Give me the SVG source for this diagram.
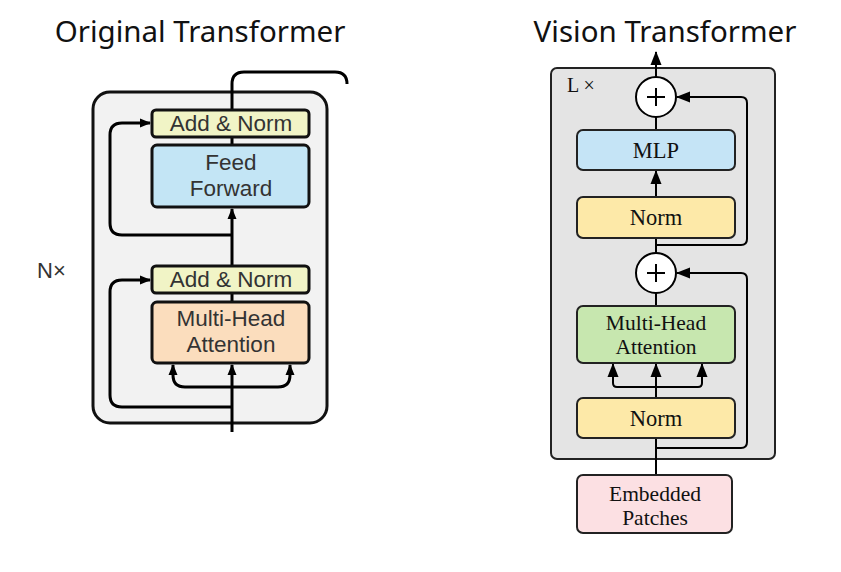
<svg xmlns="http://www.w3.org/2000/svg" width="841" height="572" viewBox="0 0 841 572">
<defs>
<marker id="a1" markerWidth="11" markerHeight="10" refX="10" refY="5" orient="auto" markerUnits="userSpaceOnUse"><path d="M0,0.5 L11,5 L0,9.5 Z" fill="#000"/></marker>
<marker id="a2" markerWidth="14" markerHeight="12" refX="13" refY="6" orient="auto" markerUnits="userSpaceOnUse"><path d="M0,0.5 L14,6 L0,11.5 Z" fill="#000"/></marker>
</defs>
<style>
.title{font-family:"Noto Sans","DejaVu Sans",sans-serif;font-size:29.5px;fill:#111}
.lt{font-family:"Liberation Sans",Arial,sans-serif;font-size:22.5px;fill:#333;text-anchor:middle}
.rt{font-family:"Liberation Serif","Times New Roman",serif;font-size:22.5px;fill:#111;text-anchor:middle}
.rt2{font-family:"Liberation Serif","Times New Roman",serif;font-size:21.5px;fill:#111;text-anchor:middle}
.lbox{stroke:#111;stroke-width:3}
.rbox{stroke:#222;stroke-width:2}
.lc{fill:none;stroke:#000;stroke-width:3}
.rc{fill:none;stroke:#000;stroke-width:2}
</style>
<rect width="841" height="572" fill="#fff"/>
<text class="title" x="200" y="42" text-anchor="middle">Original Transformer</text>
<text class="title" x="665" y="42" text-anchor="middle">Vision Transformer</text>

<g id="orig-block"><rect x="93" y="92" width="234" height="331" rx="17" fill="#f2f2f2" stroke="#111" stroke-width="3"/></g>
<g id="n-label"><text x="37" y="278" font-family="Liberation Sans,Arial,sans-serif" font-size="22" fill="#333">N×</text></g>

<g id="connectors-left">
<path class="lc" d="M232 110 V84 Q232 72 244 72 H335 Q347 72 347 84"/>
<path class="lc" d="M232 432 V 365" marker-end="url(#a1)"/>
<path class="lc" d="M232 387 H185 Q173 387 173 375 V365" marker-end="url(#a1)"/>
<path class="lc" d="M232 387 H278 Q290 387 290 375 V365" marker-end="url(#a1)"/>
<path class="lc" d="M232 407 H122 Q110 407 110 395 V292 Q110 280 122 280 H150" marker-end="url(#a1)"/>
<path class="lc" d="M232 302 V293"/>
<path class="lc" d="M232 265 V209" marker-end="url(#a1)"/>
<path class="lc" d="M232 235 H122 Q110 235 110 223 V135 Q110 123 122 123 H150" marker-end="url(#a1)"/>
<path class="lc" d="M232 145 V137"/>
</g>

<g id="add-norm-1"><rect class="lbox" x="152" y="110" width="157" height="27" rx="4" fill="#f1f4c6"/><text class="lt" x="231" y="131">Add &amp; Norm</text></g>
<g id="feed-forward"><rect class="lbox" x="152" y="145" width="157" height="62" rx="5" fill="#c3e5f5"/><text class="lt" x="231" y="170">Feed</text><text class="lt" x="231" y="196">Forward</text></g>
<g id="add-norm-2"><rect class="lbox" x="152" y="266" width="157" height="27" rx="4" fill="#f1f4c6"/><text class="lt" x="231" y="287">Add &amp; Norm</text></g>
<g id="mha-left"><rect class="lbox" x="152" y="302" width="157" height="61" rx="5" fill="#fbddbd"/><text class="lt" x="231" y="326">Multi-Head</text><text class="lt" x="231" y="352">Attention</text></g>

<g id="vit-block"><rect x="551" y="68" width="224" height="391" rx="6" fill="#e4e4e4" stroke="#222" stroke-width="2"/></g>
<g id="l-label"><text x="567" y="92" font-family="Liberation Serif,Times New Roman,serif" font-size="20" fill="#111">L ×</text></g>

<g id="connectors-right">
<path class="rc" d="M656 77 V52" marker-end="url(#a2)"/>
<path class="rc" d="M656 245 H741 Q747 245 747 239 V103 Q747 97 741 97 H677" marker-end="url(#a2)"/>
<path class="rc" d="M656 130 V117"/>
<path class="rc" d="M656 197 V171" marker-end="url(#a2)"/>
<path class="rc" d="M656 253 V238"/>
<path class="rc" d="M656 306 V293"/>
<path class="rc" d="M656 448 H741 Q747 448 747 442 V279 Q747 273 741 273 H677" marker-end="url(#a2)"/>
<path class="rc" d="M656 475 V438"/>
<path class="rc" d="M656 398 V364" marker-end="url(#a2)"/>
<path class="rc" d="M656 387 H617 Q613 387 613 383 V364" marker-end="url(#a2)"/>
<path class="rc" d="M656 387 H698 Q702 387 702 383 V364" marker-end="url(#a2)"/>
</g>

<g id="plus-1"><circle cx="656" cy="97" r="20" fill="#fff" stroke="#000" stroke-width="2"/><path d="M656 88 V106 M647 97 H665" stroke="#000" stroke-width="2"/></g>
<g id="mlp"><rect class="rbox" x="577" y="130" width="158" height="40" rx="6" fill="#c5e4f6"/><text class="rt" x="656" y="158">MLP</text></g>
<g id="norm-2"><rect class="rbox" x="577" y="197" width="158" height="41" rx="6" fill="#fde9a8"/><text class="rt" x="656" y="225">Norm</text></g>
<g id="plus-2"><circle cx="656" cy="273" r="20" fill="#fff" stroke="#000" stroke-width="2"/><path d="M656 264 V282 M647 273 H665" stroke="#000" stroke-width="2"/></g>
<g id="mha-right"><rect class="rbox" x="577" y="306" width="158" height="57" rx="6" fill="#c7e7af"/><text class="rt2" x="656" y="330">Multi-Head</text><text class="rt2" x="656" y="354">Attention</text></g>
<g id="norm-1"><rect class="rbox" x="577" y="398" width="158" height="40" rx="6" fill="#fde9a8"/><text class="rt" x="656" y="426">Norm</text></g>
<g id="embedded"><rect class="rbox" x="577" y="475" width="155" height="58" rx="6" fill="#fce0e3"/><text class="rt2" x="655" y="501">Embedded</text><text class="rt2" x="655" y="525">Patches</text></g>
</svg>
